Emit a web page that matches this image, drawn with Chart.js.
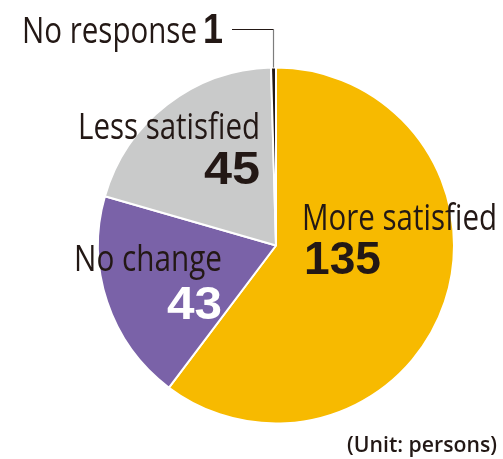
<!DOCTYPE html>
<html>
<head>
<meta charset="utf-8">
<script src="https://cdn.jsdelivr.net/npm/chart.js@4/dist/chart.umd.min.js"></script>
<style>
  html, body { margin: 0; padding: 0; background: #fff; }
  #satisfaction { display: block; }
</style>
</head>
<body>
<canvas id="satisfaction" width="503" height="459"></canvas>
<script>
// survey results (persons)
var categories = ['More satisfied', 'No change', 'Less satisfied', 'No response'];
var persons = [135, 43, 45, 1];
var unitLabel = '(Unit: persons)';

var sliceColors = ['#F7BA00', '#7A62A8', '#C9CACA', '#231815'];
var ink = '#231815';

// draw text squeezed/stretched to a given width (the original uses a narrow face)
function fitText(ctx, text, x, y, width, font, color, align) {
    ctx.save();
    ctx.font = font;
    ctx.fillStyle = color;
    ctx.textBaseline = 'alphabetic';
    ctx.textAlign = 'left';
    var w = ctx.measureText(text).width;
    var sx = width / w;
    var left = align === 'right' ? x - width : x;
    ctx.translate(left, y);
    ctx.scale(sx, 1);
    ctx.fillText(text, 0, 0);
    ctx.restore();
}

var labelFont = '500 37px "Open Sans"';
var numFont = 'bold 47px "Liberation Sans"';

var labelsPlugin = {
    id: 'sliceLabels',
    afterDraw: function(chart) {
        var ctx = chart.ctx;
        var arcs = chart.getDatasetMeta(0).data;

        // leader line to the thin "No response" slice
        var a = arcs[3];
        var mid = (a.startAngle + a.endAngle) / 2;
        var ex = a.x + Math.cos(mid) * a.outerRadius;
        var ey = a.y + Math.sin(mid) * a.outerRadius;
        ctx.save();
        ctx.lineWidth = 1.2;
        ctx.strokeStyle = '#7d7d7d';
        ctx.beginPath();
        ctx.moveTo(ex, ey);
        ctx.lineTo(ex, 29.5);
        ctx.stroke();
        ctx.strokeStyle = ink;
        ctx.beginPath();
        ctx.moveTo(ex, 29.5);
        ctx.lineTo(232, 29.5);
        ctx.stroke();
        ctx.restore();

        fitText(ctx, categories[3], 22, 43, 175, labelFont, ink, 'left');
        fitText(ctx, String(persons[3]), 223, 43, 20, 'bold 43px "Liberation Sans"', ink, 'right');

        fitText(ctx, categories[2], 260, 139, 182, labelFont, ink, 'right');
        fitText(ctx, String(persons[2]), 260, 184, 56, numFont, ink, 'right');

        fitText(ctx, categories[1], 222, 271, 148, labelFont, ink, 'right');
        fitText(ctx, String(persons[1]), 222, 319, 55, numFont, '#ffffff', 'right');

        fitText(ctx, categories[0], 302, 230, 195, labelFont, ink, 'left');
        fitText(ctx, String(persons[0]), 304, 274, 77, numFont, ink, 'left');

        fitText(ctx, unitLabel, 497, 452, 150, '600 22px "Open Sans"', ink, 'right');
    }
};

new Chart(document.getElementById('satisfaction').getContext('2d'), {
    type: 'pie',
    data: {
        labels: categories,
        datasets: [{
            data: persons,
            backgroundColor: sliceColors,
            borderColor: '#ffffff',
            borderWidth: 2
        }]
    },
    options: {
        responsive: false,
        animation: false,
        layout: { padding: { left: 97, right: 48, top: 66, bottom: 34 } },
        plugins: {
            legend: { display: false },
            tooltip: { enabled: false }
        }
    },
    plugins: [labelsPlugin]
});
</script>
</body>
</html>
